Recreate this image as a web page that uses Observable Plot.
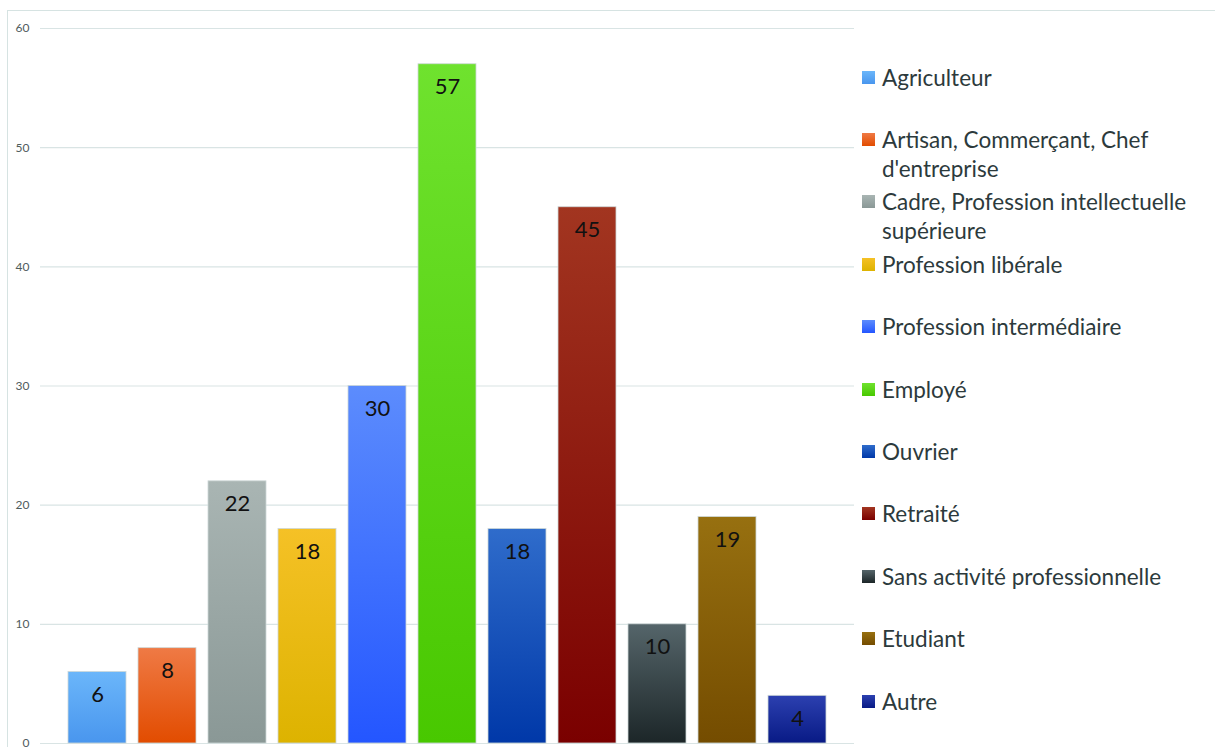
<!DOCTYPE html>
<html>
<head>
<meta charset="utf-8">
<script src="https://cdn.jsdelivr.net/npm/d3@7"></script>
<script src="https://cdn.jsdelivr.net/npm/@observablehq/plot@0.6"></script>
<style>
  html, body { margin: 0; padding: 0; background: #fff; }
  body { width: 1215px; height: 747px; position: relative; overflow: hidden; font-family: Lato, "Open Sans", sans-serif; }
  #frame { position: absolute; left: 7px; top: 10px; right: -10px; bottom: -10px; border-top: 1.5px solid #d6e3e2; border-left: 1.5px solid #d6e3e2; }
  #chart { position: absolute; left: 0; top: 0; }
  #legend { position: absolute; left: 862px; top: 0; }
  .item { position: absolute; left: 0; display: flex; align-items: flex-start; white-space: nowrap; }
  .sw { width: 13px; height: 13px; margin-top: 8px; margin-right: 7px; flex: none; }
  .lbl { font-size: 22.5px; line-height: 29px; color: #2c3a3c; }
</style>
</head>
<body>
<div id="frame"></div>
<div id="chart"></div>
<div id="legend"></div>
<script>
const categories = ["Agriculteur", "Artisan, Commerçant, Chef d'entreprise", "Cadre, Profession intellectuelle supérieure", "Profession libérale", "Profession intermédiaire", "Employé", "Ouvrier", "Retraité", "Sans activité professionnelle", "Etudiant", "Autre"];
const legendLines = [["Agriculteur"], ["Artisan, Commerçant, Chef", "d'entreprise"], ["Cadre, Profession intellectuelle", "supérieure"], ["Profession libérale"], ["Profession intermédiaire"], ["Employé"], ["Ouvrier"], ["Retraité"], ["Sans activité professionnelle"], ["Etudiant"], ["Autre"]];
const values = [6, 8, 22, 18, 30, 57, 18, 45, 10, 19, 4];
const topColors = ["#6bb6fa", "#ef7a45", "#a9b5b3", "#f5c126", "#5c8cfd", "#6fe22e", "#2f6ccb", "#a23520", "#55656a", "#977010", "#2c40b0"];
const bottomColors = ["#4996ee", "#e24c00", "#8a9896", "#ddb300", "#2456ff", "#48c800", "#0038a8", "#7a0000", "#1c2628", "#744c00", "#081a85"];
const yTicks = [0, 10, 20, 30, 40, 50, 60];

const data = categories.map((c, i) => ({cat: c, value: values[i], grad: `url(#grad${i})`}));

const defs = () => {
  const d = d3.create("svg:defs");
  categories.forEach((c, i) => {
    const g = d.append("linearGradient").attr("id", `grad${i}`).attr("x1", 0).attr("y1", 0).attr("x2", 0).attr("y2", 1);
    g.append("stop").attr("offset", "0%").attr("stop-color", topColors[i]);
    g.append("stop").attr("offset", "100%").attr("stop-color", bottomColors[i]);
  });
  return d.node();
};

const chart = Plot.plot({
  width: 1215,
  height: 747,
  marginLeft: 40,
  marginRight: 361,
  marginTop: 28,
  marginBottom: 4,
  style: {fontFamily: "Lato, 'Open Sans', sans-serif", fontSize: "12px", background: "transparent"},
  x: {type: "band", domain: categories, range: [62, 832], paddingInner: 12 / 70, paddingOuter: 6 / 70, axis: null},
  y: {domain: [0, 60], ticks: yTicks, tickSize: 0, tickPadding: 11, label: null},
  color: {type: "identity"},
  marks: [
    defs,
    Plot.ruleY(yTicks, {stroke: "#d9e4e4", strokeWidth: 1.2}),
    Plot.barY(data, {x: "cat", y: "value", fill: "grad", stroke: "#cdd7d7", strokeWidth: 0.8}),
    Plot.text(data, {x: "cat", y: "value", text: d => String(d.value), dy: 23, fontSize: 22, fill: "#111"}),
    Plot.axisY({ticks: yTicks, tickSize: 0, tickPadding: 11, fontSize: 12, fill: "#4f5d5d", label: null})
  ]
});
document.getElementById("chart").appendChild(chart);

const legend = document.getElementById("legend");
legendLines.forEach((lines, i) => {
  const item = document.createElement("div");
  item.className = "item";
  item.style.top = (77 + 62.4 * i - 14.5) + "px";
  const sw = document.createElement("div");
  sw.className = "sw";
  sw.style.background = `linear-gradient(${topColors[i]}, ${bottomColors[i]})`;
  const lbl = document.createElement("div");
  lbl.className = "lbl";
  lbl.innerHTML = lines.join("<br>");
  item.appendChild(sw);
  item.appendChild(lbl);
  legend.appendChild(item);
});
</script>
</body>
</html>
